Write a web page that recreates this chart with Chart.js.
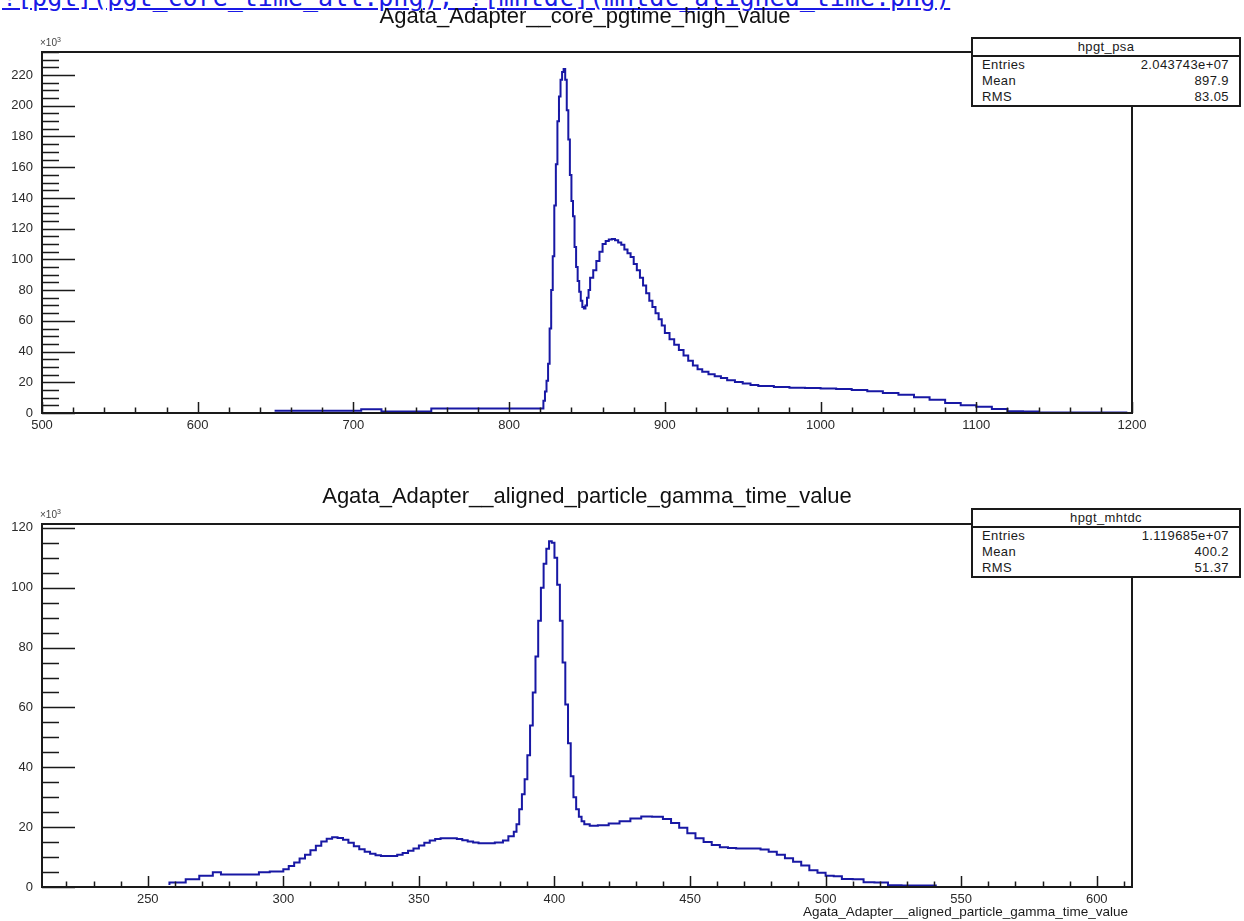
<!DOCTYPE html>
<html>
<head>
<meta charset="utf-8">
<title>hpgt</title>
<script src="https://cdn.jsdelivr.net/npm/chart.js@4.4.1/dist/chart.umd.min.js"></script>
<style>
  body { margin: 0; width: 1244px; height: 921px; overflow: hidden; position: relative; background: #fff;
         font-family: "Liberation Sans", Arial, sans-serif; color: #1a1a1a; }
  canvas { position: absolute; left: 0; }
  #top-chart { top: 0; }
  #bottom-chart { top: 460px; }
  .lbl { position: absolute; white-space: nowrap; z-index: 2; }
  .title { font-size: 22px; transform: translateX(-50%); color: #111; }
  .exp { font-size: 10px; color: #444; }
  .exp sup { font-size: 7px; vertical-align: 4px; }
  .stats { position: absolute; left: 971px; width: 266px; border: 2px solid #1a1a1a; background: #fff;
           z-index: 2; font-size: 13px; letter-spacing: 0.4px; }
  .stats .hdr { height: 16px; line-height: 16px; text-align: center; border-bottom: 2px solid #1a1a1a; }
  .stats .row { height: 16px; line-height: 16px; display: flex; justify-content: space-between; padding: 0 10px 0 9px; }
  #link { position: absolute; left: 2px; top: -17px; font-family: "DejaVu Sans Mono", monospace; font-size: 25px;
          color: #1a1ae6; text-decoration: underline; white-space: nowrap; }
</style>
</head>
<body>
<div id="link">![pgt](pgt_core_time_all.png), ![mhtdc](mhtdc_aligned_time.png)</div>

<div class="lbl title" style="left:585px; top:3px;">Agata_Adapter__core_pgtime_high_value</div>
<div class="lbl exp" style="left:40px; top:36px;">×10<sup>3</sup></div>
<div class="stats" style="top:37px;">
  <div class="hdr">hpgt_psa</div>
  <div class="row"><span>Entries</span><span>2.043743e+07</span></div>
  <div class="row"><span>Mean</span><span>897.9</span></div>
  <div class="row"><span>RMS</span><span>83.05</span></div>
</div>

<div class="lbl title" style="left:587px; top:483px;">Agata_Adapter__aligned_particle_gamma_time_value</div>
<div class="lbl exp" style="left:40px; top:508px;">×10<sup>3</sup></div>
<div class="stats" style="top:508px;">
  <div class="hdr">hpgt_mhtdc</div>
  <div class="row"><span>Entries</span><span>1.119685e+07</span></div>
  <div class="row"><span>Mean</span><span>400.2</span></div>
  <div class="row"><span>RMS</span><span>51.37</span></div>
</div>
<div class="lbl" style="right:116px; top:904px; font-size:13.5px;">Agata_Adapter__aligned_particle_gamma_time_value</div>

<canvas id="top-chart" width="1244" height="460"></canvas>
<canvas id="bottom-chart" width="1244" height="461"></canvas>

<script>
// hpgt_psa: bin low edge and counts (x10^3)
const topX = [650, 705, 718, 750, 822, 823, 824, 825, 826, 827, 828, 829, 830, 831, 832, 833, 834, 835,
  836, 837, 838, 839, 840, 841, 842, 843, 844, 845, 846, 847, 848, 849, 850, 851, 852, 854, 856, 858,
  860, 862, 864, 866, 868, 870, 872, 874, 876, 878, 880, 882, 884, 886, 888, 890, 892, 894, 896, 898,
  900, 903, 906, 909, 912, 915, 918, 921, 924, 928, 932, 936, 940, 945, 950, 955, 960, 970, 980, 990,
  1000, 1010, 1020, 1030, 1040, 1050, 1060, 1070, 1080, 1090, 1100, 1110, 1120, 1130, 1140, 1150,
  1160, 1170, 1180, 1190, 1197];
const topY = [0.8, 1.5, 2.5, 1.0, 3, 8, 14, 21, 32, 55, 80, 102, 135, 162, 190, 206, 217, 222,
  224, 217, 197, 178, 155, 138, 128, 108, 95, 86, 79, 73, 69, 68, 70, 75, 80, 88, 93, 99,
  105, 110, 112, 113, 113.2, 112.5, 111, 109.5, 106.5, 104, 101.5, 97, 93, 88, 83, 78, 73, 69, 65, 61,
  57, 52, 48, 44.5, 41, 37.5, 34, 31, 28.5, 26.8, 25.2, 24, 22.8, 21.3, 20.2, 19.2, 18.3, 17.5, 17, 16.5,
  16.2, 16, 15.6, 15, 14.2, 13, 11.8, 10.3, 8.6, 6.5, 5, 4, 2.6, 1.2, 1, 0.4,
  0.3, 0.3, 0.3, 0.3, 0.3];

// hpgt_mhtdc: bin low edge and counts (x10^3)
const botX = [258, 264, 269, 274, 277, 291, 295, 300, 302, 304, 306, 308, 310, 312, 314, 316, 318, 320,
  322, 324, 326, 328, 330, 332, 334, 336, 338, 342, 344, 346, 348, 350, 352, 354, 356, 358, 360, 364,
  366, 368, 370, 372, 374, 378, 381, 383, 385, 386, 387, 388, 389, 390, 391, 392, 393, 394, 395, 396,
  397, 398, 399, 400, 401, 402, 403, 404, 405, 406, 407, 408, 409, 410, 411, 413, 416, 420, 424, 428,
  432, 436, 440, 443, 446, 449, 452, 455, 458, 461, 464, 467, 470, 476, 479, 482, 485, 488, 491, 494,
  497, 500, 503, 506, 510, 514, 518, 523, 528, 534, 541];
const botY = [0.7, 1.5, 2.6, 3.8, 4.9, 4.2, 4.9, 5.2, 5.9, 7, 8.2, 9.5, 10.8, 12.3, 13.8, 15.2, 16.1, 16.6,
  16.4, 15.8, 14.8, 13.6, 12.6, 11.8, 11.1, 10.6, 10.4, 10.4, 10.8, 11.4, 12.1, 12.9, 13.9, 14.8, 15.5, 16, 16.3, 16.3,
  16, 15.6, 15.2, 14.9, 14.6, 14.6, 14.9, 15.5, 17, 18.5, 21, 26, 31, 36, 44, 54, 65, 77, 89, 100,
  108, 113, 115.5, 115, 110, 101, 89, 75, 61, 48, 37, 30, 26, 23.5, 22, 21, 20.5, 20.6, 21.2, 22,
  22.9, 23.6, 23.5, 22.7, 21.4, 19.8, 18, 16.3, 15, 14, 13.3, 13, 12.9, 12.9, 12.5, 11.8, 10.8, 9.6, 8.4, 7.2,
  5.6, 4.8, 3.8, 3.6, 2.7, 2.6, 1.6, 1.5, 0.6, 0.5, 0.5];

const topXTicks = [500, 600, 700, 800, 900, 1000, 1100, 1200];
const topYTicks = [0, 20, 40, 60, 80, 100, 120, 140, 160, 180, 200, 220];
const botXTicks = [250, 300, 350, 400, 450, 500, 550, 600];
const botYTicks = [0, 20, 40, 60, 80, 100, 120];

// ROOT-like frame with ticks pointing into the pad
const rootAxes = {
  id: 'rootAxes',
  afterDatasetsDraw(chart, args, o) {
    const {ctx, chartArea: a, scales: {x, y}} = chart;
    ctx.save();
    ctx.strokeStyle = '#1a1a1a';
    ctx.lineWidth = 1.5;
    ctx.beginPath();
    for (let i = Math.ceil(x.min / o.xMinor); i * o.xMinor <= x.max; i++) {
      const v = i * o.xMinor;
      const px = Math.round(x.getPixelForValue(v)) + 0.5;
      const len = v % o.xMajor === 0 ? 11 : 5.5;
      ctx.moveTo(px, a.bottom);
      ctx.lineTo(px, a.bottom - len);
    }
    for (let i = Math.ceil(y.min / o.yMinor); i * o.yMinor <= y.max; i++) {
      const v = i * o.yMinor;
      const py = Math.round(y.getPixelForValue(v)) + 0.5;
      const len = v % o.yMajor === 0 ? 33 : 17;
      ctx.moveTo(a.left, py);
      ctx.lineTo(a.left + len, py);
    }
    ctx.stroke();
    ctx.lineWidth = 2;
    ctx.strokeRect(a.left, a.top, a.right - a.left, a.bottom - a.top);
    ctx.restore();
  }
};

const tickFont = {family: '"Liberation Sans", Arial, sans-serif', size: 13};

function makeHist(id, xs, ys, c) {
  const points = xs.map((v, i) => ({x: v, y: ys[i]}));
  return new Chart(document.getElementById(id), {
    type: 'line',
    data: {
      datasets: [{
        data: points,
        stepped: 'after',
        borderColor: '#1818a4',
        borderWidth: 2,
        pointRadius: 0,
        fill: false
      }]
    },
    options: {
      responsive: false,
      animation: false,
      events: [],
      layout: {padding: {top: c.padTop, right: 112, bottom: 0, left: 0}},
      plugins: {
        legend: {display: false},
        tooltip: {enabled: false},
        rootAxes: c.ticks
      },
      scales: {
        x: {
          type: 'linear',
          min: c.xMin,
          max: c.xMax,
          afterFit: s => { s.height = c.xHeight; },
          afterBuildTicks: s => { s.ticks = c.xTicks.map(v => ({value: v})); },
          grid: {display: false, drawTicks: false},
          border: {display: false},
          ticks: {padding: 5, color: '#2a2a2a', font: tickFont, maxRotation: 0, autoSkip: false,
                  callback: v => String(v)}
        },
        y: {
          type: 'linear',
          min: 0,
          max: c.yMax,
          afterFit: s => { s.width = 42; },
          afterBuildTicks: s => { s.ticks = c.yTicks.map(v => ({value: v})); },
          grid: {display: false, drawTicks: false},
          border: {display: false},
          ticks: {padding: 9, color: '#2a2a2a', font: tickFont, autoSkip: false,
                  callback: v => String(v)}
        }
      }
    },
    plugins: [rootAxes]
  });
}

makeHist('top-chart', topX, topY, {
  padTop: 52, xHeight: 47, xMin: 500, xMax: 1200, yMax: 235,
  xTicks: topXTicks, yTicks: topYTicks,
  ticks: {xMinor: 20, xMajor: 100, yMinor: 5, yMajor: 20}
});

makeHist('bottom-chart', botX, botY, {
  padTop: 64, xHeight: 34, xMin: 211, xMax: 613, yMax: 121.3,
  xTicks: botXTicks, yTicks: botYTicks,
  ticks: {xMinor: 10, xMajor: 50, yMinor: 5, yMajor: 20}
});
</script>
</body>
</html>
